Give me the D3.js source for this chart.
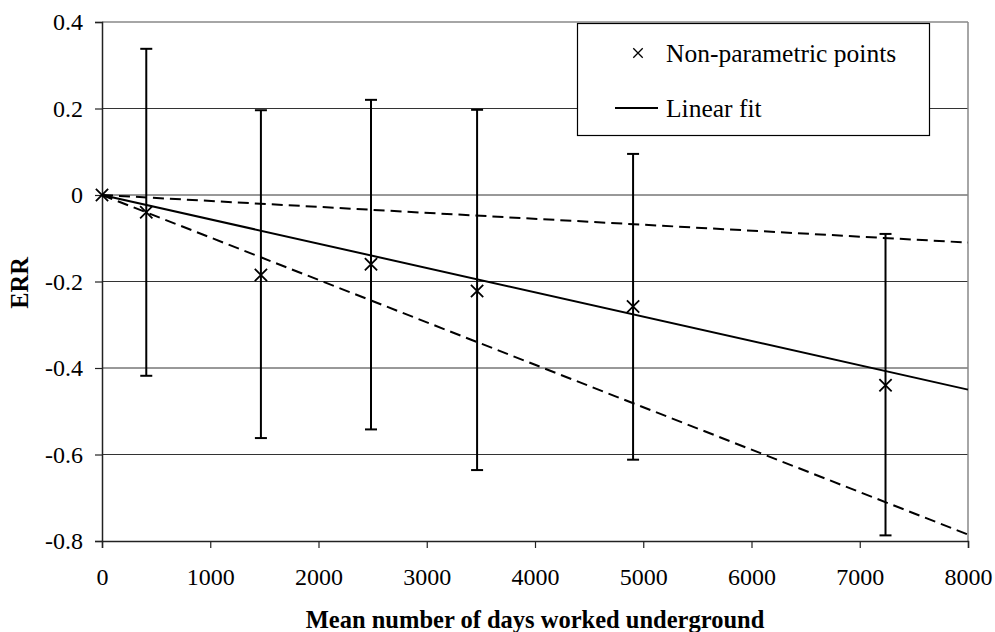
<!DOCTYPE html>
<html>
<head>
<meta charset="utf-8">
<script src="https://cdn.jsdelivr.net/npm/d3@7"></script>
<style>
  body { margin: 0; background: #fff; }
  text { font-family: "Liberation Serif", "Times New Roman", serif; fill: #000; }
</style>
</head>
<body>
<div id="chart"></div>
<script>
// Non-parametric points with error bars
var days = [0, 409, 1468, 2485, 3465, 4906, 7238];
var err = [0, -0.040, -0.185, -0.160, -0.222, -0.258, -0.440];
var errLow = [0, -0.418, -0.562, -0.542, -0.636, -0.612, -0.787];
var errHigh = [0, 0.338, 0.196, 0.220, 0.197, 0.095, -0.090];

// Linear fit and its confidence bounds (end points)
var fitDays = [0, 8000];
var fitLine = [0, -0.45];
var fitUpper = [0, -0.11];
var fitLower = [0, -0.785];

var xTicks = [0, 1000, 2000, 3000, 4000, 5000, 6000, 7000, 8000];
var yTicks = [0.4, 0.2, 0, -0.2, -0.4, -0.6, -0.8];

var svgWidth = 995, svgHeight = 632;
var margin = {top: 22, right: 27, bottom: 91, left: 102};
var width = svgWidth - margin.left - margin.right;
var height = svgHeight - margin.top - margin.bottom;

var svg = d3.select("#chart").append("svg")
  .attr("width", svgWidth)
  .attr("height", svgHeight);

var g = svg.append("g")
  .attr("transform", `translate(${margin.left}, ${margin.top})`);

var x = d3.scaleLinear().domain([0, 8000]).range([0, width]);
var y = d3.scaleLinear().domain([-0.8, 0.4]).range([height, 0]);

// horizontal gridlines
g.append("g").selectAll("line")
  .data(yTicks.filter(d => d > -0.8))
  .enter().append("line")
  .attr("x1", 0).attr("x2", width)
  .attr("y1", d => y(d)).attr("y2", d => y(d))
  .attr("stroke", d => d == 0.4 ? "#888" : "#333")
  .attr("stroke-width", d => d == 0.4 ? 1.5 : 1);

// right border of plot area
g.append("line")
  .attr("x1", width).attr("x2", width)
  .attr("y1", 0).attr("y2", height)
  .attr("stroke", "#888").attr("stroke-width", 1.5);

// axes
var leftAxis = d3.axisLeft(y).tickValues(yTicks).tickSize(7).tickPadding(12)
  .tickFormat(d => d == 0 ? "0" : d.toFixed(1));
var bottomAxis = d3.axisBottom(x).tickValues(xTicks).tickSize(7).tickPadding(20)
  .tickFormat(d => String(d));

var ya = g.append("g").call(leftAxis);
var xa = g.append("g").attr("transform", `translate(0, ${height})`).call(bottomAxis);
[ya, xa].forEach(function(a) {
  a.attr("font-family", null).attr("font-size", null);
  a.select(".domain").attr("stroke", "#222").attr("stroke-width", 1.5);
  a.selectAll(".tick line").attr("stroke", "#222").attr("stroke-width", 1.2);
  a.selectAll("text").style("font-size", "24px").attr("fill", "#000");
});

// fit lines
var line = d3.line().x(d => x(d[0])).y(d => y(d[1]));
g.append("path")
  .datum(fitDays.map((d, i) => [d, fitUpper[i]]))
  .attr("d", line).attr("fill", "none").attr("stroke", "#000")
  .attr("stroke-width", 2).attr("stroke-dasharray", "11,6");
g.append("path")
  .datum(fitDays.map((d, i) => [d, fitLower[i]]))
  .attr("d", line).attr("fill", "none").attr("stroke", "#000")
  .attr("stroke-width", 2).attr("stroke-dasharray", "11,6");
g.append("path")
  .datum(fitDays.map((d, i) => [d, fitLine[i]]))
  .attr("d", line).attr("fill", "none").attr("stroke", "#000")
  .attr("stroke-width", 2);

// error bars
var pts = days.map((d, i) => ({x: d, y: err[i], lo: errLow[i], hi: errHigh[i]}));
var bars = g.append("g").selectAll("g")
  .data(pts.filter(d => d.hi != d.lo))
  .enter().append("g");
bars.append("line")
  .attr("x1", d => x(d.x)).attr("x2", d => x(d.x))
  .attr("y1", d => y(d.hi)).attr("y2", d => y(d.lo))
  .attr("stroke", "#000").attr("stroke-width", 2);
bars.selectAll(".cap")
  .data(d => [[d.x, d.hi], [d.x, d.lo]])
  .enter().append("line")
  .attr("x1", d => x(d[0]) - 6).attr("x2", d => x(d[0]) + 6)
  .attr("y1", d => y(d[1])).attr("y2", d => y(d[1]))
  .attr("stroke", "#000").attr("stroke-width", 2);

// x markers
var cross = d3.symbol().type(d3.symbolX).size(100);
g.append("g").selectAll("path")
  .data(pts)
  .enter().append("path")
  .attr("transform", d => `translate(${x(d.x)}, ${y(d.y)})`)
  .attr("d", cross)
  .attr("fill", "none").attr("stroke", "#000").attr("stroke-width", 1.8);

// axis titles
svg.append("text")
  .attr("x", margin.left + width / 2).attr("y", 628)
  .attr("text-anchor", "middle")
  .style("font-size", "24.5px").style("font-weight", "bold")
  .text("Mean number of days worked underground");

svg.append("text")
  .attr("transform", "translate(28, 283) rotate(-90)")
  .attr("text-anchor", "middle")
  .style("font-size", "24.5px").style("font-weight", "bold")
  .text("ERR");

// legend
var legend = svg.append("g");
legend.append("rect")
  .attr("x", 577.5).attr("y", 23.5).attr("width", 352).attr("height", 112)
  .attr("fill", "#fff").attr("stroke", "#000").attr("stroke-width", 1.2);
legend.append("path")
  .attr("transform", "translate(638, 53)")
  .attr("d", d3.symbol().type(d3.symbolX).size(60))
  .attr("fill", "none").attr("stroke", "#000").attr("stroke-width", 1.3);
legend.append("text").attr("x", 666).attr("y", 62)
  .style("font-size", "25.5px").text("Non-parametric points");
legend.append("line")
  .attr("x1", 615).attr("x2", 658).attr("y1", 108).attr("y2", 108)
  .attr("stroke", "#000").attr("stroke-width", 2);
legend.append("text").attr("x", 666).attr("y", 117)
  .style("font-size", "25.5px").text("Linear fit");
</script>
</body>
</html>
